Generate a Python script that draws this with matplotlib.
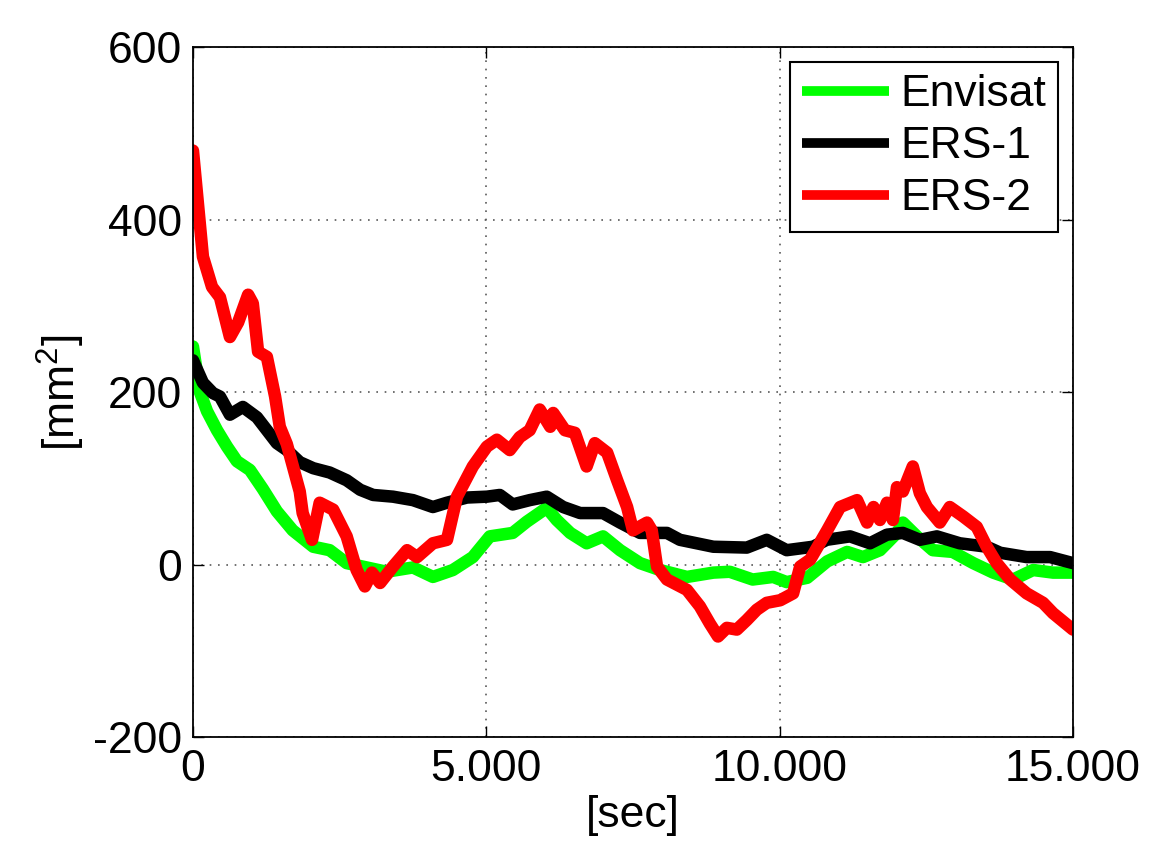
import numpy as np
import matplotlib
matplotlib.use("Agg")
import matplotlib.pyplot as plt
from matplotlib.ticker import FuncFormatter

plt.rcParams["font.family"] = ["Liberation Sans", "DejaVu Sans"]
plt.rcParams["mathtext.fontset"] = "custom"
plt.rcParams["mathtext.rm"] = "Liberation Sans"
plt.rcParams["axes.unicode_minus"] = False

# Envisat
t_env = [0, 120, 240, 410, 580, 750, 970, 1190, 1430, 1700, 2050, 2330, 2620, 2960, 3300,
         3750, 4090, 4430, 4770, 5060, 5450, 5690, 6030, 6200, 6430, 6710, 6990, 7280, 7620,
         7960, 8420, 8870, 9150, 9540, 9890, 10120, 10470, 10810, 11150, 11420, 11710, 12000,
         12100, 12340, 12610, 12950, 13300, 13640, 13980, 14320, 14660, 15000]
v_env = [253, 200, 178, 156, 137, 120, 110, 88, 62, 40, 21, 17, 2, -3, -8,
         -3, -14, -6, 9, 33, 37, 50, 66, 52, 37, 25, 33, 17, 2,
         -6, -14, -9, -8, -17, -14, -20, -15, 4, 15, 9, 17, 37,
         49, 33, 17, 15, 2, -9, -17, -6, -9, -9]

# ERS-1
t_ers1 = [0, 170, 340, 460, 630, 850, 1090, 1260, 1430, 1600, 1820, 2050, 2330, 2620, 2850,
          3070, 3410, 3750, 4090, 4330, 4670, 5010, 5230, 5450, 5740, 6030, 6310, 6600, 6990,
          7280, 7620, 8080, 8300, 8870, 9440, 9780, 10120, 10570, 10800, 11200, 11540, 11830,
          12100, 12390, 12680, 13070, 13530, 13760, 14210, 14610, 15000]
v_ers1 = [237, 211, 199, 195, 174, 183, 171, 156, 141, 133, 119, 112, 107, 98, 87,
          81, 79, 75, 67, 72, 78, 79, 81, 70, 75, 79, 67, 60, 60,
          49, 37, 37, 29, 21, 20, 29, 17, 21, 29, 33, 25, 35,
          37, 29, 33, 25, 21, 14, 9, 9, 2]

# ERS-2
t_ers2 = [0, 170, 325, 460, 630, 770, 940, 1020, 1110, 1260, 1400, 1480, 1600, 1700, 1820,
          1870, 2030, 2160, 2390, 2620, 2790, 2930, 3050, 3190, 3410, 3650, 3820, 4090, 4330,
          4500, 4770, 5010, 5180, 5400, 5570, 5740, 5910, 6090, 6140, 6340, 6510, 6710, 6850,
          7060, 7230, 7400, 7500, 7740, 7820, 7910, 8080, 8420, 8640, 8810, 8950, 9100, 9270,
          9440, 9610, 9780, 10010, 10230, 10350, 10520, 10810, 11030, 11320, 11490, 11600,
          11710, 11830, 11930, 12000, 12100, 12270, 12390, 12510, 12730, 12900, 13130, 13360,
          13530, 13700, 13930, 14210, 14490, 14660, 15000]
v_ers2 = [480, 357, 322, 310, 264, 281, 313, 303, 247, 241, 195, 160, 140, 115, 85,
          60, 29, 72, 64, 33, -6, -25, -9, -21, -2, 17, 9, 25, 29,
          79, 114, 137, 145, 133, 148, 156, 180, 160, 176, 156, 153, 114, 141,
          130, 98, 67, 40, 49, 40, -2, -17, -29, -48, -68, -83, -73, -75,
          -64, -52, -44, -41, -33, -2, 6, 40, 67, 75, 49, 67,
          52, 72, 52, 90, 85, 114, 83, 67, 49, 67, 56, 44,
          21, 2, -17, -33, -44, -56, -75]

x_ticks = [0, 5000, 10000, 15000]
y_ticks = [-200, 0, 200, 400, 600]

fig = plt.figure(figsize=(11.52, 8.46), dpi=100)
ax = fig.add_axes([0.1675, 0.1283, 0.7639, 0.8161])

kw = dict(linewidth=9, solid_capstyle="round", solid_joinstyle="round")
ax.plot(t_env, v_env, color=(0, 1, 0), label="Envisat", **kw)
ax.plot(t_ers1, v_ers1, color="black", label="ERS-1", **kw)
ax.plot(t_ers2, v_ers2, color=(1, 0, 0), label="ERS-2", **kw)

ax.set_xlim(0, 15000)
ax.set_ylim(-200, 600)
ax.set_xticks(x_ticks)
ax.set_yticks(y_ticks)
ax.xaxis.set_major_formatter(FuncFormatter(lambda v, p: "0" if v == 0 else f"{int(v):,}".replace(",", ".")))

ax.grid(True, linestyle=(0, (1, 4)), color="0.35", linewidth=1.2)
ax.tick_params(direction="in", length=8, width=1, top=True, right=True,
               labelsize=32, pad=8)
for s in ax.spines.values():
    s.set_linewidth(1.3)

ax.set_xlabel("[sec]", fontsize=32, labelpad=4)
ax.set_ylabel("[mm$^2$]", fontsize=32, labelpad=4)

leg = ax.legend(loc="upper right", fontsize=32, fancybox=False, framealpha=1,
                edgecolor="black", handlelength=1.95, handletextpad=0.25,
                labelspacing=0.25, borderaxespad=0.33, borderpad=0.28)
leg.get_frame().set_linewidth(1.5)
for h in leg.get_lines():
    h.set_linewidth(7)
    h.set_solid_capstyle("butt")

fig.savefig("out.png", dpi=100)
